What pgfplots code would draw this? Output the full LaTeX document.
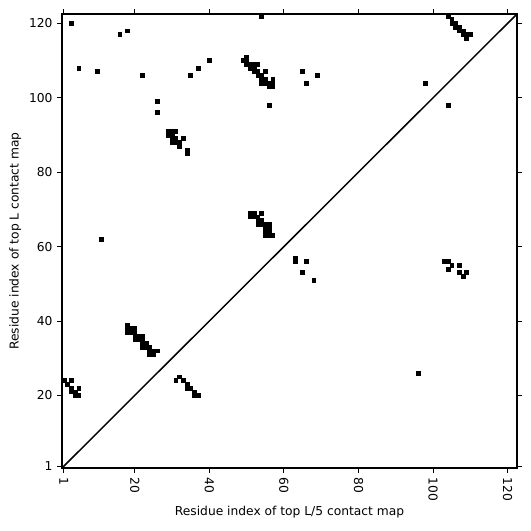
\documentclass[border=0pt]{standalone}
\usepackage{pgfplots}
\pgfplotsset{compat=1.18}
\usepackage{fontspec}
\setmainfont{DejaVu Sans}
\begin{document}
\begin{tikzpicture}
\begin{axis}[
  scale only axis,
  width=341.25pt, height=340.5pt,
  xmin=0.5, xmax=122.5, ymin=0.5, ymax=122.5,
  xtick={1,20,40,60,80,100,120},
  ytick={1,20,40,60,80,100,120},
  tick align=outside,
  tick pos=both,
  major tick length=3.6pt,
  every tick/.style={black, line width=0.7pt},
  axis line style={line width=1.5pt},
  /pgf/number format/assume math mode=true,
  tick label style={font=\fontsize{9.2}{11}\selectfont},
  xticklabel style={rotate=-90, anchor=west},
  label style={font=\fontsize{9.2}{11}\selectfont},
  xlabel={Residue index of top L/5 contact map},
  ylabel={Residue index of top L contact map},
  xlabel style={yshift=3pt},
  ylabel style={yshift=-1pt},
  clip=true,
]
\addplot[only marks, mark=square*, mark size=1.45pt, mark options={draw=none, fill=black}] coordinates {
(3,120) (5,108) (10,107) (16,117) (18,118) (22,106) (11,62) (26,99) (26,96)
(29,91) (30,91) (31,91)
(29,90) (30,90)
(30,89) (31,89) (33,89)
(30,88) (31,88) (32,88)
(32,87) (34,86) (34,85)
(35,106) (37,108) (40,110) (54,122)
(50,111)
(49,110) (50,110)
(50,109) (51,109) (52,109) (53,109)
(51,108) (52,108)
(52,107) (53,107) (55,107)
(53,106) (54,106)
(54,105) (55,105) (57,105)
(54,104) (55,104) (56,104) (57,104)
(56,103) (57,103)
(56,98) (65,107) (66,104) (69,106) (98,104)
(104,122) (105,121) (105,120) (106,120) (106,119) (107,119) (107,118) (108,118) (108,117) (109,117) (110,117) (109,116)
(104,98)
(51,69) (52,69) (54,69)
(51,68) (52,68) (53,68)
(53,67) (54,67)
(53,66) (54,66) (55,66) (56,66)
(55,65) (56,65)
(55,64) (56,64)
(55,63) (56,63) (57,63)
(63,57) (63,56) (66,56) (65,53) (68,51)
(103,56) (104,56) (105,55) (107,55) (104,54) (107,53) (109,53) (108,52)
(96,26)
(18,39)
(18,38) (19,38) (20,38)
(18,37) (19,37) (20,37)
(20,36) (21,36) (22,36)
(20,35) (21,35) (22,35)
(22,34) (23,34)
(22,33) (23,33) (24,33)
(24,32) (25,32) (26,32)
(24,31) (25,31)
(1,24) (3,24) (2,23) (3,22) (5,22) (3,21) (4,21) (4,20) (5,20)
(31,24) (32,25) (33,24) (34,23) (34,22) (35,22) (36,21) (36,20) (37,20)
};
\addplot[black, line width=1.1pt] coordinates {(0.5,0.5) (122.5,122.5)};
\end{axis}
\path[use as bounding box] ([shift={(-46.5pt,-47.25pt)}]current axis.south west) rectangle ([shift={(10.5pt,10.5pt)}]current axis.north east);
\end{tikzpicture}
\end{document}
